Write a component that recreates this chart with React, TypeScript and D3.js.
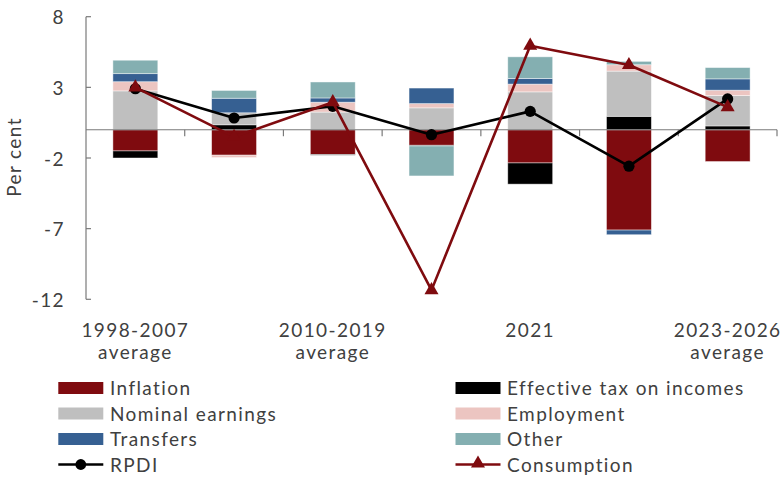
import React from "react";
import * as d3 from "d3";

const categories = [
  "1998-2007 average",
  "2008-2009 average",
  "2010-2019 average",
  "2020",
  "2021",
  "2022",
  "2023-2026 average",
];
const xTickLabels = [
  ["1998-2007", "average"],
  [],
  ["2010-2019", "average"],
  [],
  ["2021"],
  [],
  ["2023-2026", "average"],
];
const yTicks = [8, 3, -2, -7, -12];

const inflation = [-1.5, -1.8, -1.75, -1.1, -2.35, -7.1, -2.25];
const effectiveTax = [-0.5, 0.35, -0.05, -0.05, -1.5, 0.95, 0.27];
const nominalEarnings = [2.75, 0.85, 1.25, 1.55, 2.68, 3.2, 2.15];
const employment = [0.65, -0.17, 0.7, 0.3, 0.55, 0.45, 0.38];
const transfers = [0.57, 1.03, 0.3, 1.1, 0.4, -0.33, 0.8];
const other = [0.95, 0.55, 1.13, -2.12, 1.53, 0.24, 0.8];
const rpdi = [2.9, 0.83, 1.66, -0.35, 1.3, -2.58, 2.18];
const consumption = [3.0, -0.5, 1.95, -11.35, 5.95, 4.58, 1.6];

const barSeries = [
  { key: "Inflation", values: inflation, color: "#7f0b0f" },
  { key: "Effective tax on incomes", values: effectiveTax, color: "#000000" },
  { key: "Nominal earnings", values: nominalEarnings, color: "#bfbfbf" },
  { key: "Employment", values: employment, color: "#ecc5c1" },
  { key: "Transfers", values: transfers, color: "#366092" },
  { key: "Other", values: other, color: "#84afb1" },
];

const FONT = "Lato, 'Noto Sans', sans-serif";
const TEXT = "#404040";
const AXIS = "#7a7a7a";

export default function App() {
  const W = 782;
  const H = 478;
  const x = d3.scaleBand<string>().domain(categories).range([86, 777]).paddingInner(0).paddingOuter(0);
  const y = d3.scaleLinear().domain([-12, 8]).range([299.3, 16.7]);
  const bw = x.bandwidth() * 0.455;

  const rows = categories.map((c, i) => {
    const r: any = { cat: c };
    barSeries.forEach((s) => (r[s.key] = s.values[i]));
    return r;
  });
  const stacked = d3
    .stack<any>()
    .keys(barSeries.map((s) => s.key))
    .offset(d3.stackOffsetDiverging)(rows);

  const cx = (i: number) => (x(categories[i]) as number) + x.bandwidth() / 2;
  const lineGen = d3
    .line<number>()
    .x((_, i) => cx(i))
    .y((d) => y(d));
  const tri = d3.symbol(d3.symbolTriangle, 85)() as string;

  const textStyle = {
    fontFamily: FONT,
    fontSize: 19,
    fill: TEXT,
    letterSpacing: "1.4px",
  } as React.CSSProperties;

  const legendLeft = [
    { label: "Inflation", color: "#7f0b0f" },
    { label: "Nominal earnings", color: "#bfbfbf" },
    { label: "Transfers", color: "#366092" },
  ];
  const legendRight = [
    { label: "Effective tax on incomes", color: "#000000" },
    { label: "Employment", color: "#ecc5c1" },
    { label: "Other", color: "#84afb1" },
  ];
  const rowsY = [388, 413.5, 439, 464.5];

  return (
    <svg
      width={W}
      height={H}
      style={{ position: "absolute", left: 0, top: 0, background: "#fff" }}
    >
      {/* bars */}
      {stacked.map((layer, si) => (
        <g key={layer.key}>
          {layer.map((d, i) => {
            const y0 = y(d[0]);
            const y1 = y(d[1]);
            const h = Math.abs(y0 - y1);
            if (h < 0.01) return null;
            return (
              <rect
                key={i}
                x={cx(i) - bw / 2}
                y={Math.min(y0, y1)}
                width={bw}
                height={h}
                fill={barSeries[si].color}
                stroke="#ffffff"
                strokeOpacity={0.55}
                strokeWidth={0.8}
              />
            );
          })}
        </g>
      ))}

      {/* y axis */}
      <line x1={86} x2={86} y1={y(8)} y2={y(-12)} stroke={AXIS} strokeWidth={1.2} />
      {yTicks.map((t) => (
        <g key={t}>
          <line x1={86} x2={91} y1={y(t)} y2={y(t)} stroke={AXIS} strokeWidth={1.2} />
          <text x={65} y={y(t) + 7.5} textAnchor="end" style={textStyle}>
            {t}
          </text>
        </g>
      ))}
      <text
        transform={`translate(21,157) rotate(-90)`}
        textAnchor="middle"
        style={textStyle}
      >
        Per cent
      </text>

      {/* x axis at zero */}
      <line x1={86} x2={777} y1={y(0)} y2={y(0)} stroke={AXIS} strokeWidth={1.2} />
      {categories.map((c, i) => {
        const bx = (x(c) as number) + x.bandwidth();
        return <line key={c} x1={bx} x2={bx} y1={y(0)} y2={y(0) + 6.5} stroke={AXIS} strokeWidth={1.2} />;
      })}
      {xTickLabels.map((lines, i) =>
        lines.map((ln, j) => (
          <text key={`${i}-${j}`} x={cx(i)} y={336.5 + j * 22} textAnchor="middle" style={textStyle}>
            {ln}
          </text>
        ))
      )}

      {/* lines */}
      <path d={lineGen(rpdi) as string} fill="none" stroke="#000" strokeWidth={2.6} strokeLinejoin="round" />
      {rpdi.map((v, i) => (
        <circle key={i} cx={cx(i)} cy={y(v)} r={5.6} fill="#000" />
      ))}
      <path d={lineGen(consumption) as string} fill="none" stroke="#7f0b0f" strokeWidth={2.6} strokeLinejoin="round" />
      {consumption.map((v, i) => (
        <path key={i} d={tri} transform={`translate(${cx(i)},${y(v)})`} fill="#7f0b0f" />
      ))}

      {/* legend */}
      {legendLeft.map((l, i) => (
        <g key={l.label}>
          <rect x={58.3} y={rowsY[i] - 6} width={45} height={12} fill={l.color} />
          <text x={110} y={rowsY[i] + 7} style={textStyle}>
            {l.label}
          </text>
        </g>
      ))}
      {legendRight.map((l, i) => (
        <g key={l.label}>
          <rect x={455.5} y={rowsY[i] - 6} width={45} height={12} fill={l.color} />
          <text x={507} y={rowsY[i] + 7} style={textStyle}>
            {l.label}
          </text>
        </g>
      ))}
      <g>
        <line x1={58.3} x2={103.3} y1={rowsY[3]} y2={rowsY[3]} stroke="#000" strokeWidth={2.6} />
        <circle cx={80.8} cy={rowsY[3]} r={5.4} fill="#000" />
        <text x={110} y={rowsY[3] + 7} style={textStyle}>
          RPDI
        </text>
      </g>
      <g>
        <line x1={455.5} x2={500.5} y1={rowsY[3]} y2={rowsY[3]} stroke="#7f0b0f" strokeWidth={2.6} />
        <path d={tri} transform={`translate(478,${rowsY[3] - 1})`} fill="#7f0b0f" />
        <text x={507} y={rowsY[3] + 7} style={textStyle}>
          Consumption
        </text>
      </g>
    </svg>
  );
}
